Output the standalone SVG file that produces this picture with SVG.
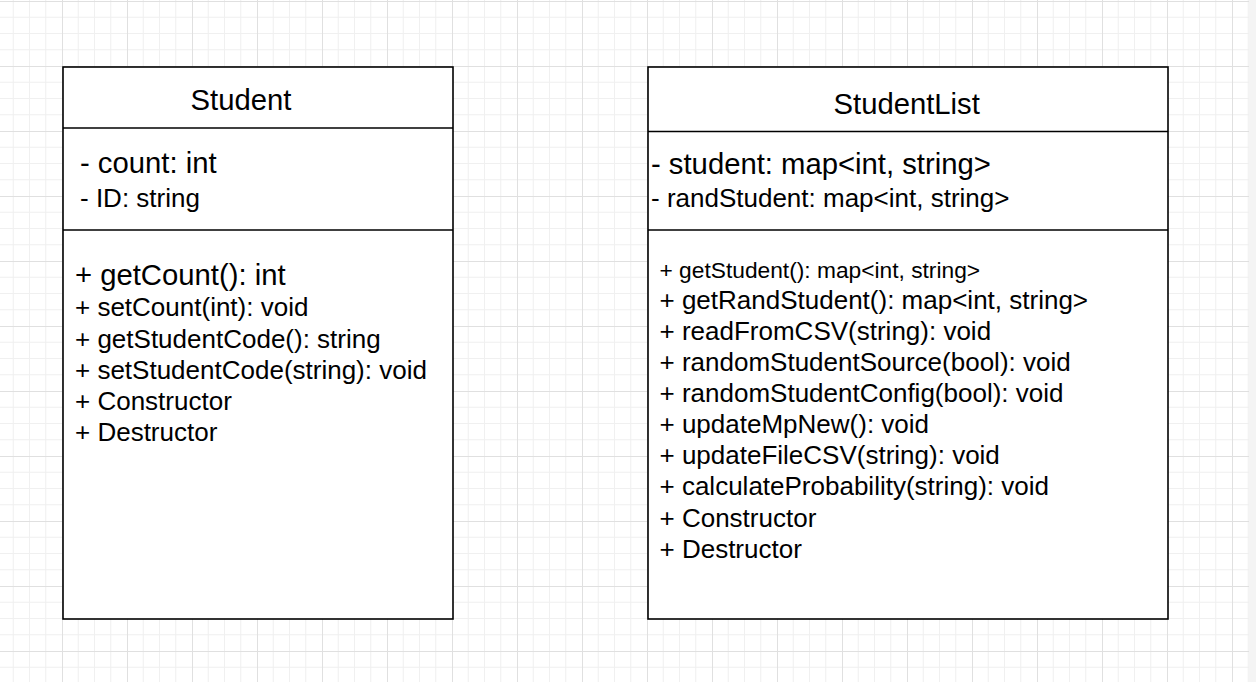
<svg xmlns="http://www.w3.org/2000/svg" width="1256" height="682" viewBox="0 0 1256 682">
  <defs>
    <pattern id="grid" x="62" y="1" width="65" height="65" patternUnits="userSpaceOnUse">
      <rect width="65" height="65" fill="#ffffff"/>
      <path d="M16.25 0V65M32.5 0V65M48.75 0V65M0 16.25H65M0 32.5H65M0 48.75H65" stroke="#f0f0f0" stroke-width="1" fill="none"/>
      <path d="M0.5 0V65M0 0.5H65" stroke="#e0e0e0" stroke-width="1" fill="none"/>
    </pattern>
    <style>
      .box { fill: #ffffff; stroke: #000000; stroke-width: 1.6; }
      .div { stroke: #000000; stroke-width: 1.6; }
      text { font-family: "Liberation Sans", Arial, Helvetica, sans-serif; fill: #000000; }
      .title { font-size: 29.25px; }
      .big { font-size: 29.25px; }
      .med { font-size: 26px; }
      .small { font-size: 22.75px; }
    </style>
  </defs>
  <rect x="0" y="0" width="1256" height="682" fill="url(#grid)"/>
  <rect x="1249" y="0" width="7" height="682" fill="#f4f4f4"/>

  <g id="connectors"></g>

  <g id="student">
    <rect class="box" x="63" y="67" width="390" height="552"/>
    <line class="div" x1="63" y1="128" x2="453" y2="128"/>
    <line class="div" x1="63" y1="230" x2="453" y2="230"/>
    <text class="title" x="190.5" y="110">Student</text>
    <text class="big" x="80" y="173">- count: int</text>
    <text class="med" x="80" y="206.5">- ID: string</text>
    <text class="big" x="75" y="285">+ getCount(): int</text>
    <text class="med" x="75" y="316">+ setCount(int): void</text>
    <text class="med" x="75" y="347.5">+ getStudentCode(): string</text>
    <text class="med" x="75" y="378.5">+ setStudentCode(string): void</text>
    <text class="med" x="75" y="410">+ Constructor</text>
    <text class="med" x="75" y="441">+ Destructor</text>
  </g>

  <g id="studentlist">
    <rect class="box" x="648" y="67" width="520" height="552"/>
    <line class="div" x1="648" y1="131.5" x2="1168" y2="131.5"/>
    <line class="div" x1="648" y1="230" x2="1168" y2="230"/>
    <text class="title" x="833.5" y="113.5">StudentList</text>
    <text class="big" x="651" y="173.5">- student: map&lt;int, string&gt;</text>
    <text class="med" x="651" y="206.5">- randStudent: map&lt;int, string&gt;</text>
    <text class="small" x="659.5" y="277.5">+ getStudent(): map&lt;int, string&gt;</text>
    <text class="med" x="659.5" y="308.5">+ getRandStudent(): map&lt;int, string&gt;</text>
    <text class="med" x="659.5" y="339.5">+ readFromCSV(string): void</text>
    <text class="med" x="659.5" y="370.5">+ randomStudentSource(bool): void</text>
    <text class="med" x="659.5" y="401.5">+ randomStudentConfig(bool): void</text>
    <text class="med" x="659.5" y="433">+ updateMpNew(): void</text>
    <text class="med" x="659.5" y="464">+ updateFileCSV(string): void</text>
    <text class="med" x="659.5" y="495">+ calculateProbability(string): void</text>
    <text class="med" x="659.5" y="526.5">+ Constructor</text>
    <text class="med" x="659.5" y="558">+ Destructor</text>
  </g>
</svg>
